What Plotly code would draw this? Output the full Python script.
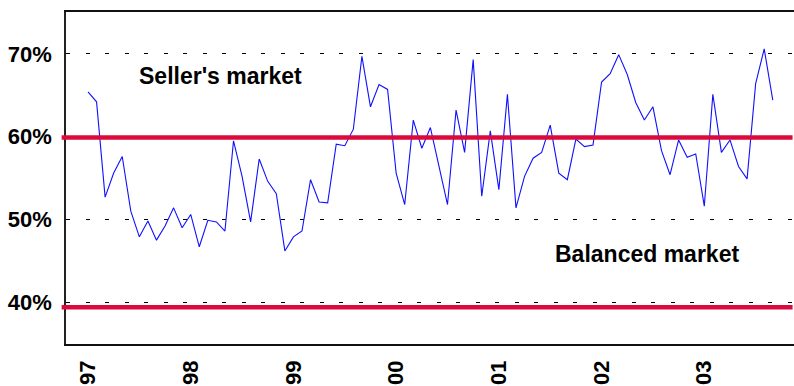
import plotly.graph_objects as go

# Monthly share of sales, Jan 1997 - Sep 2003 (percent)
share = [
    65.4, 64.2, 52.7, 55.6, 57.6, 51.0, 47.9, 49.8, 47.5, 49.2, 51.4, 49.0,
    50.6, 46.7, 49.9, 49.7, 48.6, 59.5, 55.2, 49.7, 57.3, 54.6, 53.1, 46.2,
    47.9, 48.6, 54.8, 52.1, 52.0, 59.1, 58.9, 60.9, 69.7, 63.6, 66.3, 65.7,
    55.6, 51.8, 62.0, 58.6, 61.1, 56.4, 51.8, 63.2, 58.1, 69.3, 52.8, 60.7,
    53.6, 65.1, 51.4, 55.2, 57.4, 58.1, 61.4, 55.6, 54.8, 59.7, 58.8, 59.0,
    66.6, 67.6, 69.9, 67.5, 64.1, 62.0, 63.6, 58.3, 55.4, 59.6, 57.5, 57.9,
    51.6, 65.1, 58.1, 59.6, 56.4, 54.9, 66.4, 70.6, 64.4,
]
months = list(range(len(share)))

year_ticks = [0, 12, 24, 36, 48, 60, 72]
year_labels = ["'97", "'98", "'99", "'00", "'01", "'02", "'03"]

pct_ticks = [40, 50, 60, 70]
pct_labels = ["40%", "50%", "60%", "70%"]

# Market-condition thresholds
thresholds = [59.9, 39.4]

FONT = "Liberation Sans, Arial, sans-serif"
RED = "#DC0A3C"

fig = go.Figure()

fig.add_trace(go.Scatter(
    x=months, y=share, mode="lines",
    line=dict(color="#1010FF", width=1.1),
    hoverinfo="x+y", showlegend=False,
))

for level in thresholds:
    fig.add_shape(
        type="line", xref="paper", yref="y",
        x0=-0.006, x1=0.998, y0=level, y1=level,
        line=dict(color=RED, width=4.5), layer="above",
    )

fig.add_annotation(
    x=15.5, y=67.3, text="<b>Seller's market</b>", showarrow=False,
    font=dict(family=FONT, size=23, color="#000000"),
)
fig.add_annotation(
    x=65.3, y=45.8, text="<b>Balanced market</b>", showarrow=False,
    font=dict(family=FONT, size=23, color="#000000"),
)

fig.update_layout(
    width=794, height=386,
    margin=dict(l=66, r=0, t=12, b=42),
    paper_bgcolor="white", plot_bgcolor="white",
    font=dict(family=FONT, color="#000000"),
    xaxis=dict(
        range=[-2.57, 82.48], automargin=False,
        tickmode="array", tickvals=year_ticks, ticktext=year_labels,
        tickangle=-90, tickfont=dict(family=FONT, size=22, weight="bold"),
        ticks="", ticklabelstandoff=6,
        showgrid=False, zeroline=False,
        showline=True, linecolor="#111111", linewidth=1.5, mirror=True,
    ),
    yaxis=dict(
        range=[34.96, 75.05], automargin=False,
        tickmode="array", tickvals=pct_ticks, ticktext=pct_labels,
        tickfont=dict(family=FONT, size=22, weight="bold"),
        ticks="", ticklabelstandoff=8,
        showgrid=True, gridcolor="#000000", gridwidth=1, griddash="4px,15.5px",
        zeroline=False,
        showline=True, linecolor="#222222", linewidth=1.5,
    ),
)

fig.write_html("out.html")
